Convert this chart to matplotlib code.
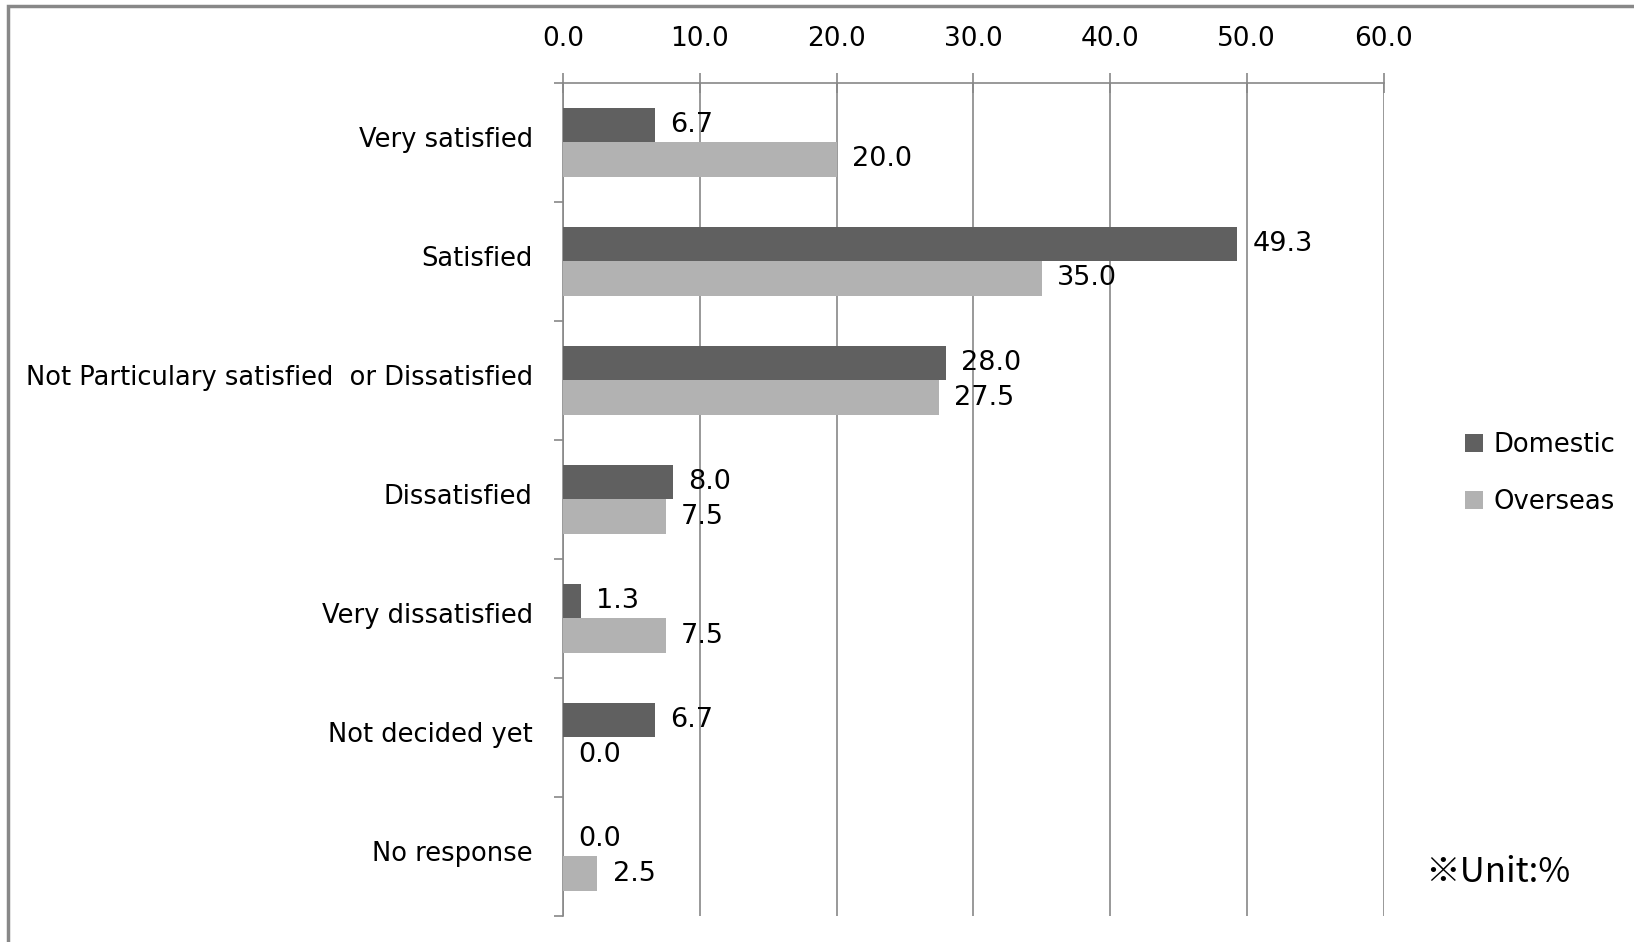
import matplotlib
matplotlib.use('Agg')
import matplotlib.pyplot as plt
import matplotlib.transforms as mtransforms
from matplotlib.patches import Rectangle
import numpy as np

# survey answers, top to bottom
categories = ['Very satisfied', 'Satisfied', 'Not Particulary satisfied  or Dissatisfied',
              'Dissatisfied', 'Very dissatisfied', 'Not decided yet', 'No response']
domestic = [6.7, 49.3, 28.0, 8.0, 1.3, 6.7, 0.0]
overseas = [20.0, 35.0, 27.5, 7.5, 7.5, 0.0, 2.5]
x_ticks = [0, 10, 20, 30, 40, 50, 60]

plt.rcParams['font.family'] = ['DejaVu Sans']

fig = plt.figure(figsize=(16.34, 9.42), dpi=100)
ax = fig.add_axes([0.3447, 0.0276, 0.8467 - 0.3447, 0.9123 - 0.0276])

y = np.arange(len(categories))
h = 0.29
b1 = ax.barh(y - h / 2, domestic, height=h, color='#606060', label='Domestic', zorder=3)
b2 = ax.barh(y + h / 2, overseas, height=h, color='#b2b2b2', label='Overseas', zorder=3)

# value labels just right of each bar end
for bars, vals in [(b1, domestic), (b2, overseas)]:
    for bar, v in zip(bars, vals):
        ax.annotate(f'{v:.1f}', (v, bar.get_y() + bar.get_height() / 2),
                    xytext=(11, 0), textcoords='offset points',
                    va='center', ha='left', fontsize=19.5, zorder=4)

ax.set_xlim(0, 60)
ax.set_ylim(len(categories) - 0.5, -0.5)

ax.xaxis.tick_top()
ax.set_xticks(x_ticks)
ax.set_xticklabels([f'{t:.1f}' for t in x_ticks], fontsize=19)
ax.tick_params(axis='x', direction='inout', length=14, width=1.2, color='#888888', pad=15)
ax.grid(axis='x', color='#888888', linewidth=1.2, zorder=0)

ax.set_yticks(y)
ax.set_yticklabels(categories, fontsize=18.5)
ax.tick_params(axis='y', which='major', length=0, pad=22)
ax.set_yticks(np.arange(len(categories) + 1) - 0.5, minor=True)
ax.tick_params(axis='y', which='minor', direction='out', length=6.5, width=1.2, color='#888888')

# nudge category labels up a little
shift = mtransforms.ScaledTranslation(0, 4 / 72, fig.dpi_scale_trans)
for lab in ax.get_yticklabels():
    lab.set_transform(lab.get_transform() + shift)

for s in ['right', 'bottom']:
    ax.spines[s].set_visible(False)
for s in ['top', 'left']:
    ax.spines[s].set_color('#888888')
    ax.spines[s].set_linewidth(1.2)

fig.legend(loc='center left', bbox_to_anchor=(1442 / 1634, 0.497), frameon=False,
           fontsize=18.6, handlelength=0.7, handleheight=0.7, handletextpad=0.4,
           labelspacing=1.2)

fig.text(1425 / 1634, 1 - 872 / 942, '※Unit:%', fontsize=25, va='center', ha='left',
         family=['Noto Sans CJK JP', 'DejaVu Sans'])

# gray frame around the chart area
fig.patches.append(Rectangle((8 / 1634, -0.1), 1.2, 1.1 - 6 / 942, transform=fig.transFigure,
                             fill=False, edgecolor='#888888', linewidth=2.5))

plt.savefig('out.png', dpi=100)
